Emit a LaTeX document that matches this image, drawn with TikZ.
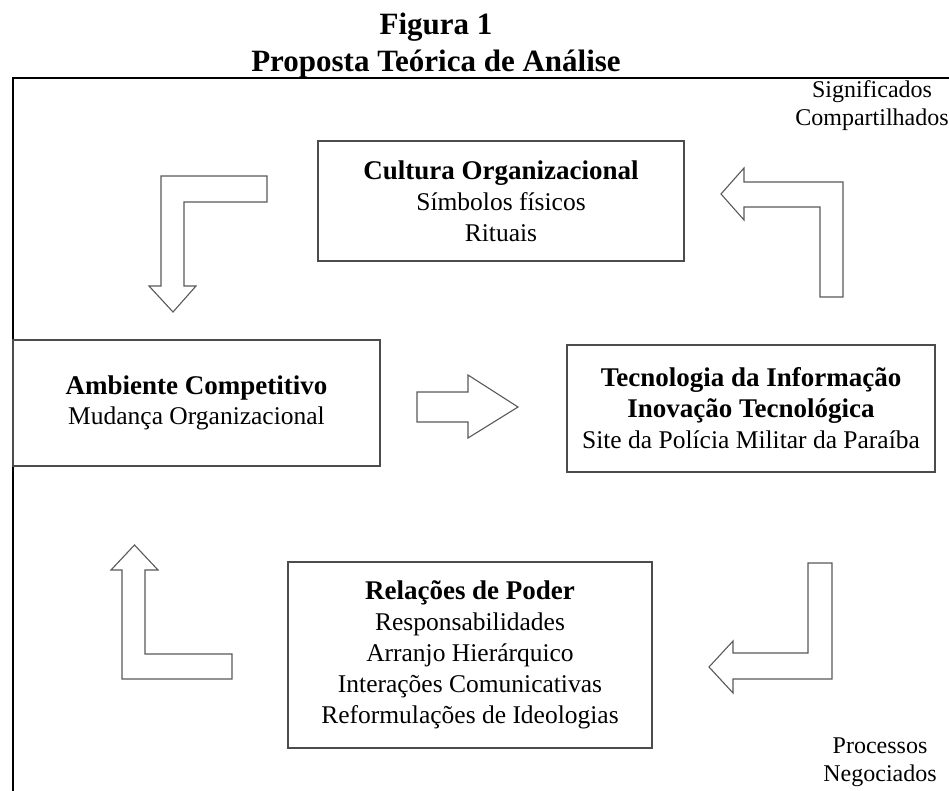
\documentclass[tikz,border=0pt]{standalone}
\usepackage{fontspec}
\setmainfont{Liberation Serif}
\usetikzlibrary{
  positioning,
}
\tikzset{
  frame line/.style = {
    draw=black,
    line width=1.4pt
  },
  concept box/.style = {
    draw=black!70,
    line width=1.3pt,
    align=center,
    inner sep=0pt,
    font=\fontsize{25.5}{31}\selectfont
  },
  side label/.style = {
    align=center,
    inner sep=0pt,
    font=\fontsize{24}{28}\selectfont
  },
  title line/.style = {
    inner sep=0pt,
    anchor=base,
    font=\bfseries\fontsize{31}{37}\selectfont
  },
  block arrow/.style = {
    draw=black!65,
    line width=1.1pt,
    fill=white,
    line join=miter
  },
}
\newcommand{\boxhead}[1]{{\bfseries\fontsize{27}{31}\selectfont #1}}

\begin{document}
\begin{tikzpicture}[x=1pt, y=-1pt]
  \useasboundingbox (0,0) rectangle (949,791);
  %% title
  \node (fig) [title line] at (436,35) {Figura 1};
  \node (prop) [title line, below=37pt of fig.base, anchor=base] {Proposta Teórica de Análise};
  %% frame
  \draw[frame line] (949,78) -- (13,78) -- (13,791);
  %% boxes
  \node (cultura) [concept box, minimum width=366pt, minimum height=120pt] at (501,201) {
      \boxhead{Cultura Organizacional}\\
      Símbolos físicos\\
      Rituais
  };
  \node (ambiente) [concept box, minimum width=367pt, minimum height=126pt,
      font=\fontsize{25.5}{30}\selectfont] at (196.5,403) {
      \boxhead{Ambiente Competitivo}\\
      Mudança Organizacional
  };
  \node (tecnologia) [concept box, minimum width=368pt, minimum height=127pt] at (751,408.5) {
      \boxhead{Tecnologia da Informação}\\
      \boxhead{Inovação Tecnológica}\\
      Site da Polícia Militar da Paraíba
  };
  \node (poder) [concept box, minimum width=364pt, minimum height=186pt] at (470,655) {
      \boxhead{Relações de Poder}\\
      Responsabilidades\\
      Arranjo Hierárquico\\
      Interações Comunicativas\\
      Reformulações de Ideologias
  };
  %% side labels
  \node (shared) [side label] at (872,106) {Significados\\Compartilhados};
  \node (negotiated) [side label] at (880,762) {Processos\\Negociados};
  %% block arrows
  \draw[block arrow] (161,176) -- (267,176) -- (267,202) -- (184,202) -- (184,286)
      -- (196,286) -- (173,312) -- (149,286) -- (161,286) -- cycle;
  \draw[block arrow] (843,297) -- (843,182) -- (744,182) -- (744,168) -- (721,194)
      -- (744,220) -- (744,207) -- (820,207) -- (820,297) -- cycle;
  \draw[block arrow] (417,392) -- (468,392) -- (468,375) -- (518,407) -- (468,438)
      -- (468,422) -- (417,422) -- cycle;
  \draw[block arrow] (808,563) -- (832,563) -- (832,679) -- (733,679) -- (733,693)
      -- (709,667) -- (733,641) -- (733,653) -- (808,653) -- cycle;
  \draw[block arrow] (232,679) -- (122,679) -- (122,570) -- (111,570) -- (134.5,545)
      -- (158,570) -- (145,570) -- (145,654) -- (232,654) -- cycle;
\end{tikzpicture}
\end{document}
